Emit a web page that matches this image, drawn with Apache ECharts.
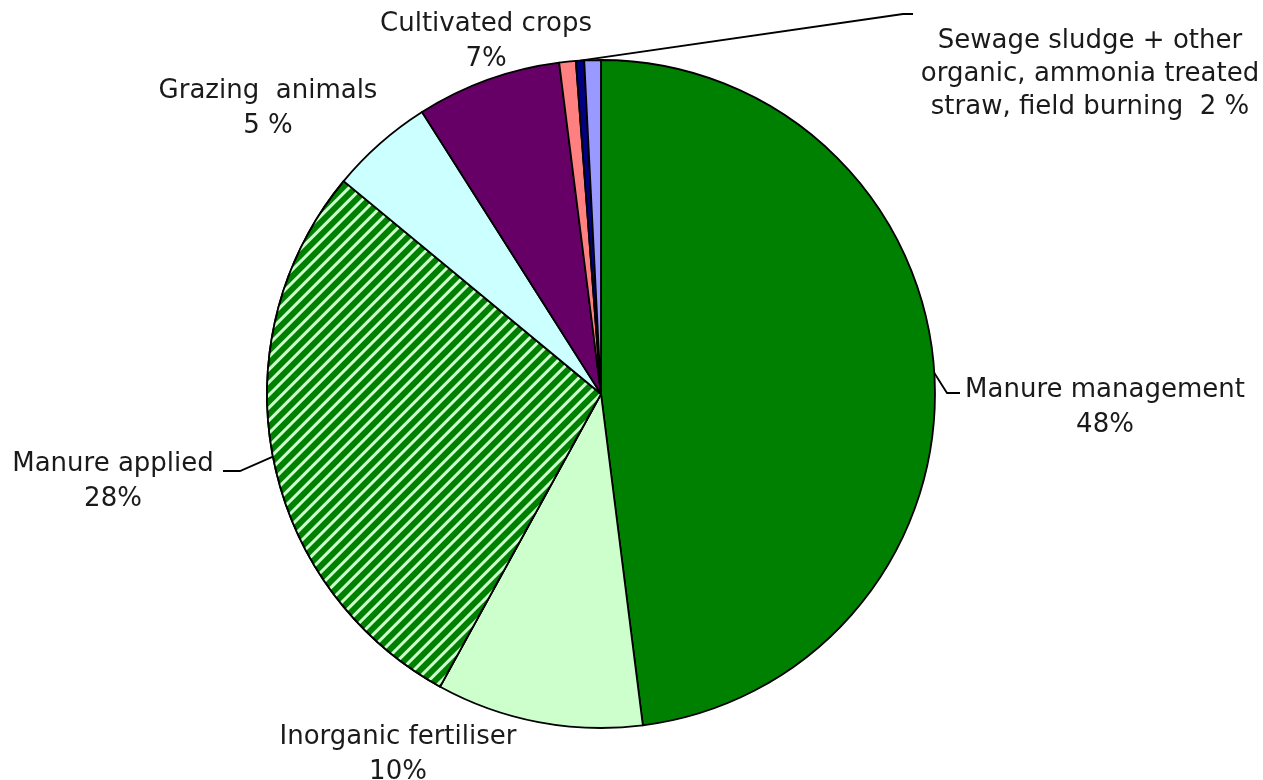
<!DOCTYPE html>
<html>
<head>
<meta charset="utf-8">
<title>Nitrous oxide sources in agriculture</title>
<script src="https://cdn.jsdelivr.net/npm/echarts@6/dist/echarts.min.js"></script>
<style>
  html, body { margin: 0; padding: 0; background: #ffffff; }
  #chart { width: 1263px; height: 780px; }
</style>
</head>
<body>
<div id="chart"></div>
<script>
// Source shares (%), clockwise from 12 o'clock
const sliceNames = [
  'Manure management',
  'Inorganic fertiliser',
  'Manure applied',
  'Grazing animals',
  'Cultivated crops',
  'Sewage sludge',
  'Other organic',
  'Ammonia treated straw, field burning'
];
const sliceValues = [48, 10, 28, 5, 7, 0.8, 0.4, 0.8];

// Label captions; the last three small slices share one caption
const labelTitles = [
  'Manure management',
  'Inorganic fertiliser',
  'Manure applied',
  'Grazing  animals',
  'Cultivated crops',
  null,
  'Sewage sludge + other\norganic, ammonia treated\nstraw, field burning',
  null
];
// Separator between caption and percentage, and between number and %
const captionJoin = ['\n', '\n', '\n', '\n', '\n', '', '  ', ''];
const percentGap = ['', '', '', ' ', '', '', ' ', ''];
const groupedSlices = [5, 6, 7];

const palette = ['#008000', '#ccffcc', '#008000', '#ccffff', '#660066', '#ff8080', '#000080', '#9999ff'];

function labelValue(i) {
  if (i === 6) {
    return groupedSlices.reduce((s, k) => s + sliceValues[k], 0);
  }
  return sliceValues[i];
}

// Where each caption sits, and the bend/end of its leader line
const labelSpots = {
  0: { x: 1105, y: 408, line: [[947, 393], [960, 393]] },
  1: { x: 398, y: 755 },
  2: { x: 113, y: 482, line: [[240, 471], [223, 471]] },
  3: { x: 268, y: 109 },
  4: { x: 486, y: 42 },
  6: { x: 1090, y: 74, lineHeight: 33, line: [[903, 14], [913, 14]] }
};

const data = sliceNames.map((name, i) => {
  const item = {
    name: name,
    value: sliceValues[i],
    itemStyle: { color: palette[i] },
    label: { show: labelTitles[i] !== null },
    labelLine: { show: !!(labelSpots[i] && labelSpots[i].line) }
  };
  if (labelSpots[i] && labelSpots[i].lineHeight) {
    item.label.lineHeight = labelSpots[i].lineHeight;
  }
  if (i === 2) {
    // light diagonal hatching over the green fill
    item.itemStyle.decal = {
      symbol: 'rect',
      symbolSize: 1,
      color: '#ccffcc',
      dashArrayX: [1, 0],
      dashArrayY: [3, 6],
      rotation: -Math.PI / 4
    };
  }
  return item;
});

const chart = echarts.init(document.getElementById('chart'), null, { renderer: 'canvas' });

chart.setOption({
  backgroundColor: '#ffffff',
  animation: false,
  series: [{
    type: 'pie',
    center: [601, 394],
    radius: 334,
    startAngle: 90,
    clockwise: true,
    avoidLabelOverlap: false,
    silent: true,
    data: data,
    itemStyle: { borderColor: '#000000', borderWidth: 1.8 },
    label: {
      position: 'outside',
      fontFamily: 'DejaVu Sans',
      fontSize: 26,
      lineHeight: 35,
      color: '#1a1a1a',
      align: 'center',
      formatter: (p) => labelTitles[p.dataIndex] + captionJoin[p.dataIndex] +
        labelValue(p.dataIndex) + percentGap[p.dataIndex] + '%'
    },
    labelLine: {
      show: true,
      lineStyle: { color: '#000000', width: 1.8 }
    },
    labelLayout: (params) => {
      const spot = labelSpots[params.dataIndex];
      if (!spot) return {};
      const out = { x: spot.x, y: spot.y, align: 'center', verticalAlign: 'middle' };
      if (spot.line && params.labelLinePoints) {
        out.labelLinePoints = [params.labelLinePoints[0], spot.line[0], spot.line[1]];
      }
      return out;
    }
  }]
});
</script>
</body>
</html>
